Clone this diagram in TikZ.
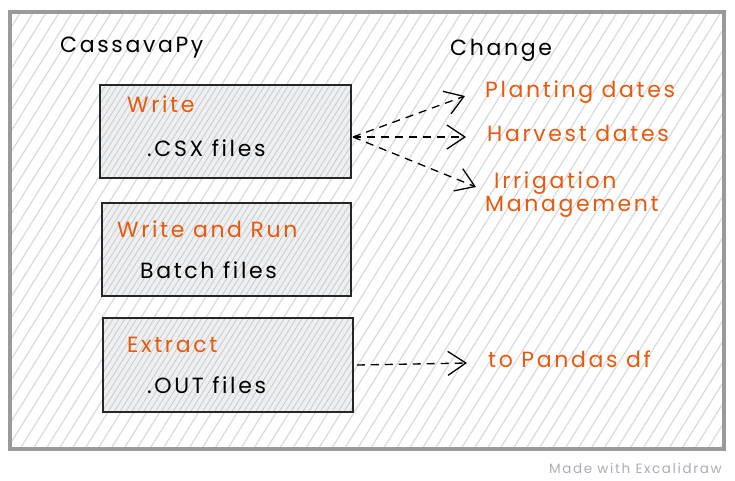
\documentclass[tikz,border=0pt]{standalone}
\usepackage{fontspec}
\setmainfont{Poppins}[LetterSpace=12]
\usetikzlibrary{arrows.meta, positioning, patterns.meta}
\definecolor{exorange}{HTML}{E8590C}
\definecolor{framegray}{HTML}{9A9A9A}
\definecolor{hatchgray}{HTML}{D6D9DD}
\definecolor{boxfill}{HTML}{EDEFF1}
\definecolor{signgray}{HTML}{A8AEB5}

\begin{document}
\begin{tikzpicture}[
  x=1pt, y=-1pt,
  every node/.style={font=\fontsize{22}{26}\selectfont, inner sep=0pt},
  frame/.style={draw=framegray, line width=3.5pt,
    pattern={Lines[angle=58, distance=11pt, line width=1.2pt]}, pattern color=hatchgray},
  stepbox/.style={draw=black!85, line width=1.5pt, preaction={fill=boxfill},
    pattern={Lines[angle=58, distance=5pt, line width=0.7pt]}, pattern color=gray!45,
    minimum width=250pt, minimum height=93pt},
  verb/.style={text=exorange, anchor=base west},
  obj/.style={text=black, anchor=base west},
  target/.style={text=exorange, anchor=base west},
  flow/.style={draw=black, line width=1.3pt, dash pattern=on 8pt off 6pt,
    -{Straight Barb[length=18pt, width=24pt, line width=1.3pt]}}
]
\useasboundingbox (0,0) rectangle (735,481);

% outer frame
\draw[frame] (10,12) rectangle (724,449);

\node[obj] (title) at (60,53) {CassavaPy};
\node[obj] (change) at (450,56) {Change};

% the three steps
\node[stepbox, minimum width=251pt] (csxbox) at (225.5,131.5) {};
\node[verb] (write) at (127,113) {Write};
\node[obj] (csx) at (147,157) {.CSX files};

\node[stepbox, minimum width=249pt] (batchbox) at (226.5,249.5) {};
\node[verb] (writerun) at (117,237) {Write and Run};
\node[obj] (batch) at (140,278) {Batch files};

\node[stepbox, minimum height=94pt] (outbox) at (228,365) {};
\node[verb] (extract) at (127,352) {Extract};
\node[obj] (outfiles) at (147,393) {.OUT files};

% what is changed
\node[target] (plant) at (485,98) {Planting dates};
\node[target] (harvest) at (487,142) {Harvest dates};
\node[target] (irrig) at (494,188) {Irrigation};
\node[target] (manage) at (485,211) {Management};
\node[target] (pandas) at (488,367) {to Pandas df};

\coordinate (fan) at (353,137);
\draw[flow] (fan) -- ([shift={(-20,-2)}]plant.base west);
\draw[flow] (fan) -- ([shift={(-21,-5)}]harvest.base west);
\draw[flow] (fan) -- ([shift={(-18,-1)}]irrig.base west);
\draw[flow] ([xshift=3pt]outbox.east) -- ([shift={(-21,-4)}]pandas.base west);

\node[text=signgray, font=\fontsize{13.5}{16}\selectfont, anchor=base east] (sign) at (722,473) {Made with Excalidraw};
\end{tikzpicture}
\end{document}
